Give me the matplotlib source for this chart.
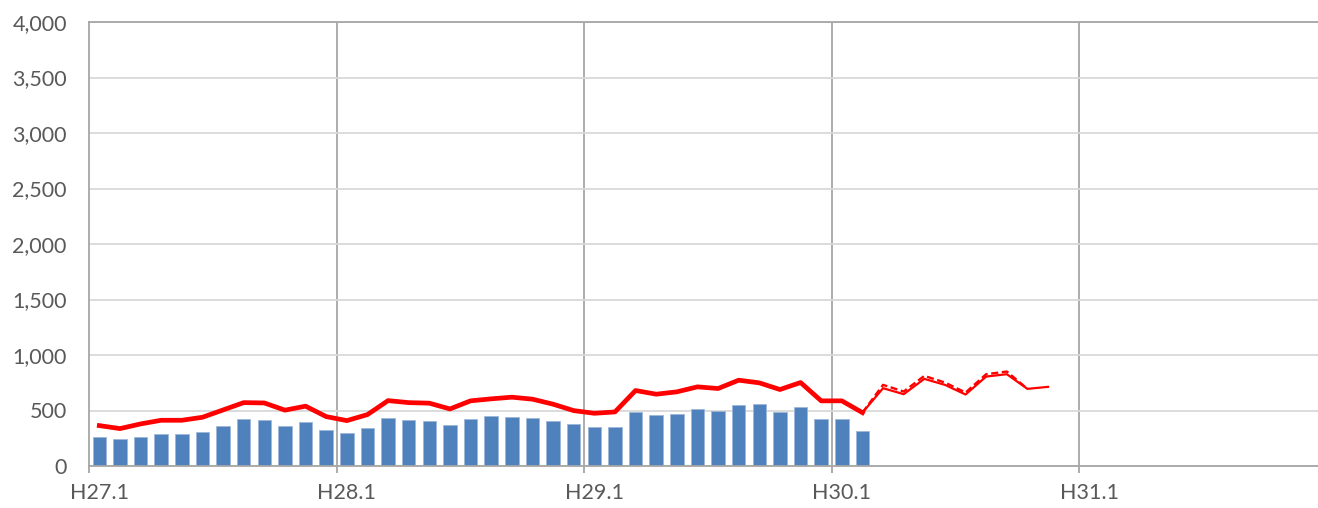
import numpy as np
import matplotlib.pyplot as plt

# monthly categories H27.1 .. H31.12
years = ["H27", "H28", "H29", "H30", "H31"]
months = [f"{y}.{m}" for y in years for m in range(1, 13)]
tick_labels = [f"{y}.1" for y in years]

# bars: H27.1 .. H30.2
bar_values = [264, 241, 264, 289, 286, 307, 358, 421, 412, 361, 394, 328,
              298, 340, 430, 412, 406, 370, 421, 451, 445, 433, 406, 376,
              349, 352, 484, 460, 469, 517, 499, 553, 557, 490, 530, 424,
              427, 316]

# thick red line, same period as the bars
line_values = [364, 337, 379, 412, 412, 439, 505, 571, 568, 503, 539, 445,
               409, 463, 589, 571, 566, 514, 587, 605, 620, 602, 557, 499,
               475, 487, 680, 647, 668, 713, 698, 773, 749, 689, 752, 587,
               587, 481]

# thin solid line, from H30.2
solid_values = [481, 701, 647, 785, 731, 644, 806, 827, 695, 713]
# dashed line, from H30.2
dashed_values = [481, 731, 671, 812, 752, 662, 827, 851, 695]

W, H = 1318, 508
fig = plt.figure(figsize=(W / 100, H / 100), dpi=100)
left, right, top, bottom = 89, 1326.5, 22, 466
ax = fig.add_axes([left / W, 1 - bottom / H, (right - left) / W, (bottom - top) / H])

x = np.arange(len(months))
xb = x[:len(bar_values)]
ax.bar(xb, bar_values, width=0.65, color="#4F81BD", edgecolor="#9DB7DA",
       linewidth=0.6, zorder=2)
ax.plot(xb, line_values, color="#FF0000", linewidth=3.4, zorder=3,
        solid_joinstyle="round")
s0 = len(bar_values) - 1
ax.plot(x[s0:s0 + len(solid_values)], solid_values, color="#FF0000",
        linewidth=1.6, zorder=3)
ax.plot(x[s0:s0 + len(dashed_values)], dashed_values, color="#FF0000",
        linewidth=1.7, linestyle=(0, (3, 1.5)), zorder=3)

ax.set_xlim(-0.5, len(months) - 0.5)
ax.set_ylim(0, 4000)

ax.set_yticks(np.arange(0, 4001, 500))
ax.set_yticklabels([f"{v:,}" for v in range(0, 4001, 500)])
ax.yaxis.grid(True, color="#D9D9D9", linewidth=1.3, zorder=0)

ax.set_xticks(x[::12])
ax.set_xticklabels(tick_labels)
bounds = np.arange(-0.5, len(months), 12)
ax.set_xticks(bounds, minor=True)
for b in bounds[1:]:
    ax.axvline(b, color="#A6A6A6", linewidth=1.3, zorder=1)

ax.tick_params(axis="y", length=0, pad=16, labelsize=15.5, labelcolor="#595959")
ax.tick_params(axis="x", which="major", length=0, pad=12, labelsize=15.5,
               labelcolor="#595959")
ax.tick_params(axis="x", which="minor", length=5, color="#A6A6A6", width=1.3)

ax.spines["right"].set_visible(False)
for side in ["left", "bottom", "top"]:
    ax.spines[side].set_color("#A6A6A6")
    ax.spines[side].set_linewidth(1.3)

for lbl in ax.get_xticklabels() + ax.get_yticklabels():
    lbl.set_family(["Lato", "DejaVu Sans"])

fig.savefig("out.png", dpi=100)
